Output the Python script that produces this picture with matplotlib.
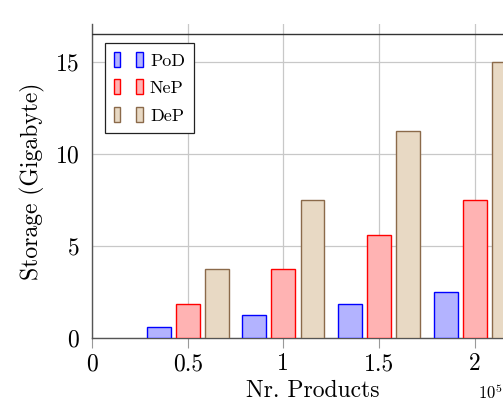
import matplotlib

matplotlib.use("Agg")
import matplotlib.pyplot as plt
from matplotlib.legend_handler import HandlerTuple
from matplotlib.patches import Rectangle

plt.rcParams.update({
    "font.family": "serif",
    "font.serif": ["cmr10", "DejaVu Serif"],
    "mathtext.fontset": "cm",
    "axes.formatter.use_mathtext": True,
    "axes.unicode_minus": False,
})

# data (Nr. products in units of 1e5, storage in GB)
products = [0.5, 1.0, 1.5, 2.0]
series = ["PoD", "NeP", "DeP"]
pod = [0.625, 1.25, 1.875, 2.5]
nep = [1.875, 3.75, 5.625, 7.5]
dep = [3.75, 7.5, 11.25, 15.0]
xticks = [0, 0.5, 1, 1.5, 2]
xtick_labels = ["0", "0.5", "1", "1.5", "2"]
yticks = [0, 5, 10, 15]

styles = {
    "PoD": ("#b3b3ff", "#0000ff"),
    "NeP": ("#ffb3b3", "#ff0000"),
    "DeP": ("#e8d9c4", "#8b6a4a"),
}

W, H = 503, 404
fig = plt.figure(figsize=(W / 100, H / 100), dpi=100)
left, bottom, top_px = 92, 338, 24
ax_w = 442
ax = fig.add_axes([left / W, (H - bottom) / H, ax_w / W, (bottom - top_px) / H])

width = 0.125
offs = [-0.152, 0.0, 0.152]
handles = []
for name, vals, off in zip(series, [pod, nep, dep], offs):
    face, edge = styles[name]
    ax.bar([p + off for p in products], vals, width=width, color=face,
           edgecolor=edge, linewidth=1.0, zorder=3)
    h1 = Rectangle((0, 0), 1, 1, facecolor=face, edgecolor=edge, linewidth=1.0)
    h2 = Rectangle((0, 0), 1, 1, facecolor=face, edgecolor=edge, linewidth=1.0)
    handles.append((h1, h2))

ax.set_xlim(0, ax_w / 191.4)
ax.set_ylim(0, (bottom - top_px) / 18.4)
ax.axhline(16.5, color="#333333", linewidth=1.0, zorder=4)

ax.set_xticks(xticks)
ax.set_xticklabels(xtick_labels)
ax.set_yticks(yticks)
ax.grid(True, color="#c8c8c8", linewidth=0.9, zorder=0)
ax.tick_params(axis="x", direction="out", length=7, color="#999999",
               labelsize=17, pad=4)
ax.tick_params(axis="y", length=0, labelsize=17, pad=9)
for s in ["top", "right"]:
    ax.spines[s].set_visible(False)
for s in ["left", "bottom"]:
    ax.spines[s].set_color("#555555")
    ax.spines[s].set_linewidth(1.0)

ax.set_ylabel("Storage (Gigabyte)", fontsize=17, labelpad=7)
ax.set_xlabel("Nr. Products", fontsize=17, labelpad=3)
fig.text(478 / W, 1 - 402 / H, r"$10^5$", fontsize=12, va="bottom", ha="left")

leg = ax.legend(handles, series, loc="upper left", bbox_to_anchor=(0.029, 0.94),
                borderaxespad=0,
                handler_map={tuple: HandlerTuple(ndivide=None, pad=0.9)},
                handlelength=1.6, handleheight=0.9, handletextpad=0.4,
                labelspacing=0.6, borderpad=0.5, fancybox=False,
                edgecolor="#222222", framealpha=1, fontsize=13)
leg.get_frame().set_linewidth(0.9)
leg.set_zorder(6)

fig.savefig("out.png", dpi=100)
